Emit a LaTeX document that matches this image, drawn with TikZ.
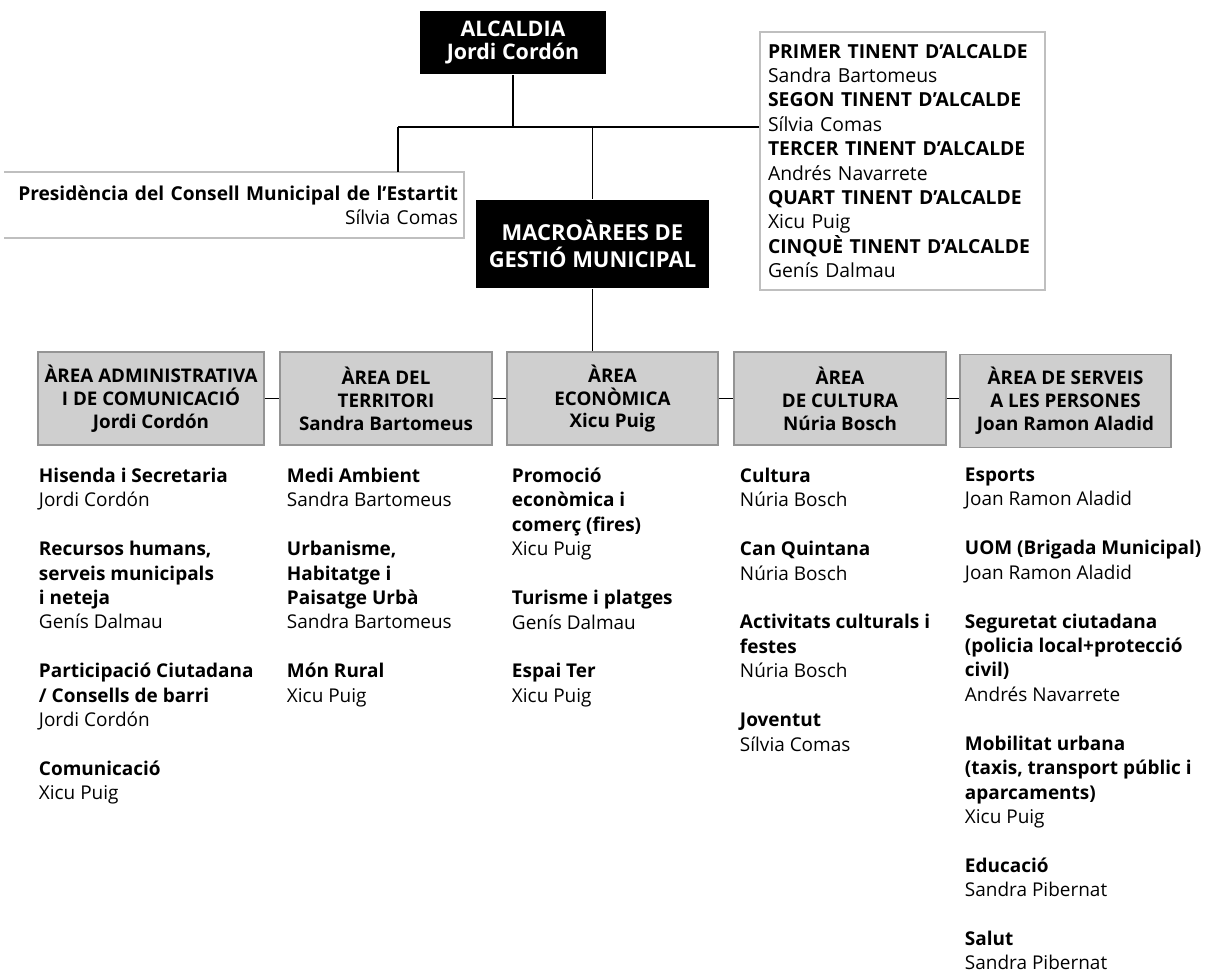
\documentclass[tikz,border=0pt]{standalone}
\usepackage{fontspec}
\setmainfont{Open Sans}
\usetikzlibrary{positioning}
\newcommand{\listfont}{\fontsize{10.8}{13.9}\selectfont}
\newcommand{\gap}{\\[13.9pt]}
\begin{document}
\begin{tikzpicture}[x=0.02cm,y=-0.02cm,line width=1.1pt]

\tikzset{blackbox/.style={fill=black,text=white,align=center,inner sep=0pt,font=\bfseries\fontsize{12.2}{13.6}\selectfont},
areabox/.style={fill=black!19,draw=black!42,line width=0.7pt,align=center,inner sep=0pt,minimum height=1.86cm,font=\bfseries\fontsize{10.7}{13}\selectfont},
column/.style={anchor=north west,align=left,inner sep=0pt,font=\listfont},
greyline/.style={draw=black!25,line width=0.8pt}}

\useasboundingbox (0,0) rectangle (1219,974);

% top of the chart
\node[blackbox,minimum width=3.72cm,minimum height=1.26cm] (alc) at (513,42.5) {ALCALDIA\\Jordi Cordón};
\node[blackbox,minimum width=4.66cm,minimum height=1.76cm,font=\bfseries\fontsize{12.5}{15.3}\selectfont] (macro) at (592.5,244) {MACROÀREES DE\\GESTIÓ MUNICIPAL};

\node[minimum width=9.16cm,minimum height=1.28cm,inner xsep=0.1cm,text width=8.96cm,align=right,font=\fontsize{10.9}{13.9}\selectfont] (pres) at (234,205)
{\textbf{Presidència del Consell Municipal de l’Estartit}\\Sílvia Comas};
\draw[greyline] (pres.north west) -- (pres.north east) -- (pres.south east) -- (pres.south west);

\node[greyline,minimum width=5.7cm,minimum height=5.16cm,inner xsep=0.16cm,text width=5.38cm,align=left,font=\fontsize{11}{13.9}\selectfont] (tin) at (902.5,161)
{\textbf{PRIMER TINENT D’ALCALDE}\\Sandra Bartomeus\\
\textbf{SEGON TINENT D’ALCALDE}\\Sílvia Comas\\
\textbf{TERCER TINENT D’ALCALDE}\\Andrés Navarrete\\
\textbf{QUART TINENT D’ALCALDE}\\Xicu Puig\\
\textbf{CINQUÈ TINENT D’ALCALDE}\\Genís Dalmau};

\coordinate (hub) at (398,127);
\draw (alc.south) -- (alc.south |- hub);
\draw (hub) -- (hub |- pres.north);
\draw (hub) -- (hub -| tin.west);
\draw (macro.north |- hub) -- (macro.north);

% areas
\node[areabox,minimum width=4.52cm] (adm) at (151,398.5) {ÀREA ADMINISTRATIVA\\I DE COMUNICACIÓ\\Jordi Cordón};
\node[areabox,minimum width=4.24cm] (ter) at (386,398.5) {ÀREA DEL\\TERRITORI\\Sandra Bartomeus};
\node[areabox,minimum width=4.22cm] (eco) at (612.5,398.5) {ÀREA\\ECONÒMICA\\Xicu Puig};
\node[areabox,minimum width=4.24cm] (cul) at (840,398.5) {ÀREA\\DE CULTURA\\Núria Bosch};
\node[areabox,minimum width=4.22cm] (ser) at (1065.5,401) {ÀREA DE SERVEIS\\A LES PERSONES\\Joan Ramon Aladid};

\draw (macro.south) -- (macro.south |- eco.north);
\draw (adm) -- (ter);
\draw (ter) -- (eco);
\draw (eco) -- (cul);
\draw (cul.east) -- (ser.west |- cul.east);

% what each area takes care of
\node[column] (admlist) at (38,467) {\textbf{Hisenda i Secretaria}\\Jordi Cordón\gap
\textbf{Recursos humans,}\\\textbf{serveis municipals}\\\textbf{i neteja}\\Genís Dalmau\gap
\textbf{Participació Ciutadana}\\\textbf{/ Consells de barri}\\Jordi Cordón\gap
\textbf{Comunicació}\\Xicu Puig};
\node[column] (terlist) at (286,467) {\textbf{Medi Ambient}\\Sandra Bartomeus\gap
\textbf{Urbanisme,}\\\textbf{Habitatge i}\\\textbf{Paisatge Urbà}\\Sandra Bartomeus\gap
\textbf{Món Rural}\\Xicu Puig};
\node[column] (ecolist) at (511,467) {\textbf{Promoció}\\\textbf{econòmica i}\\\textbf{comerç (fires)}\\Xicu Puig\gap
\textbf{Turisme i platges}\\Genís Dalmau\gap
\textbf{Espai Ter}\\Xicu Puig};
\node[column] (cullist) at (739,467) {\textbf{Cultura}\\Núria Bosch\gap
\textbf{Can Quintana}\\Núria Bosch\gap
\textbf{Activitats culturals i}\\\textbf{festes}\\Núria Bosch\gap
\textbf{Joventut}\\Sílvia Comas};
\node[column] (serlist) at (964,467) {\textbf{Esports}\\Joan Ramon Aladid\gap
\textbf{UOM (Brigada Municipal)}\\Joan Ramon Aladid\gap
\textbf{Seguretat ciutadana}\\\textbf{(policia local+protecció}\\\textbf{civil)}\\Andrés Navarrete\gap
\textbf{Mobilitat urbana}\\\textbf{(taxis, transport públic i}\\\textbf{aparcaments)}\\Xicu Puig\gap
\textbf{Educació}\\Sandra Pibernat\gap
\textbf{Salut}\\Sandra Pibernat};

\end{tikzpicture}
\end{document}
